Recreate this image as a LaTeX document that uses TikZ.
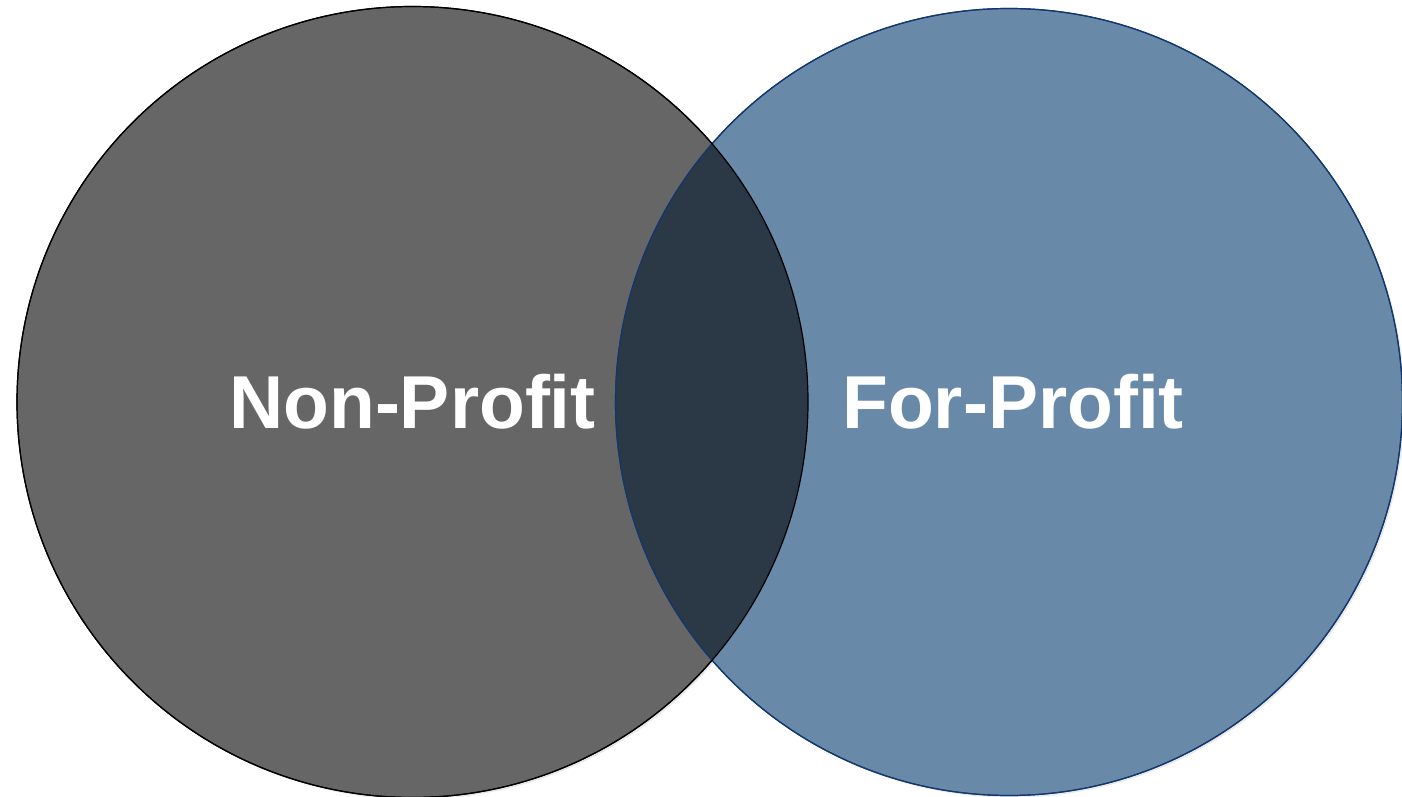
\documentclass[tikz,border=0pt]{standalone}
\usepackage{fontspec}
\setmainfont{Liberation Sans}
\usetikzlibrary{shadows}
\definecolor{npgray}{HTML}{666666}
\definecolor{fpblue}{HTML}{688AA8}
\definecolor{bothdark}{HTML}{2B3845}
\definecolor{fpline}{HTML}{12366E}
\begin{document}
\begin{tikzpicture}[x=1pt,y=-1pt,inner sep=0pt,outer sep=0pt,
setcircle/.style={circle,minimum size=#1,line width=1.2pt,
  drop shadow={opacity=0.18,shadow xshift=2pt,shadow yshift=-2pt}},
setlabel/.style={text=white,font=\fontsize{75}{80}\selectfont\bfseries}]
\useasboundingbox (0,0) rectangle (1402,797);
\node[setcircle=791pt,fill=npgray,draw=black] (nonprofit) at (412.5,402) {};
\node[setcircle=787pt,fill=fpblue,draw=fpline] (forprofit) at (1009,402) {};
% overlap of the two sets
\begin{scope}
\clip (412.5,402) circle (395.5);
\fill[bothdark] (1009,402) circle (393.5);
\end{scope}
\draw[fpline,line width=1.2pt] (forprofit.center) circle (393.5);
\draw[black,line width=1.2pt] (nonprofit.center) circle (395.5);

\node[setlabel] (nplabel) at (412.5,402) {Non-Profit};
\node[setlabel] (fplabel) at (1013,402) {For-Profit};
\end{tikzpicture}
\end{document}
